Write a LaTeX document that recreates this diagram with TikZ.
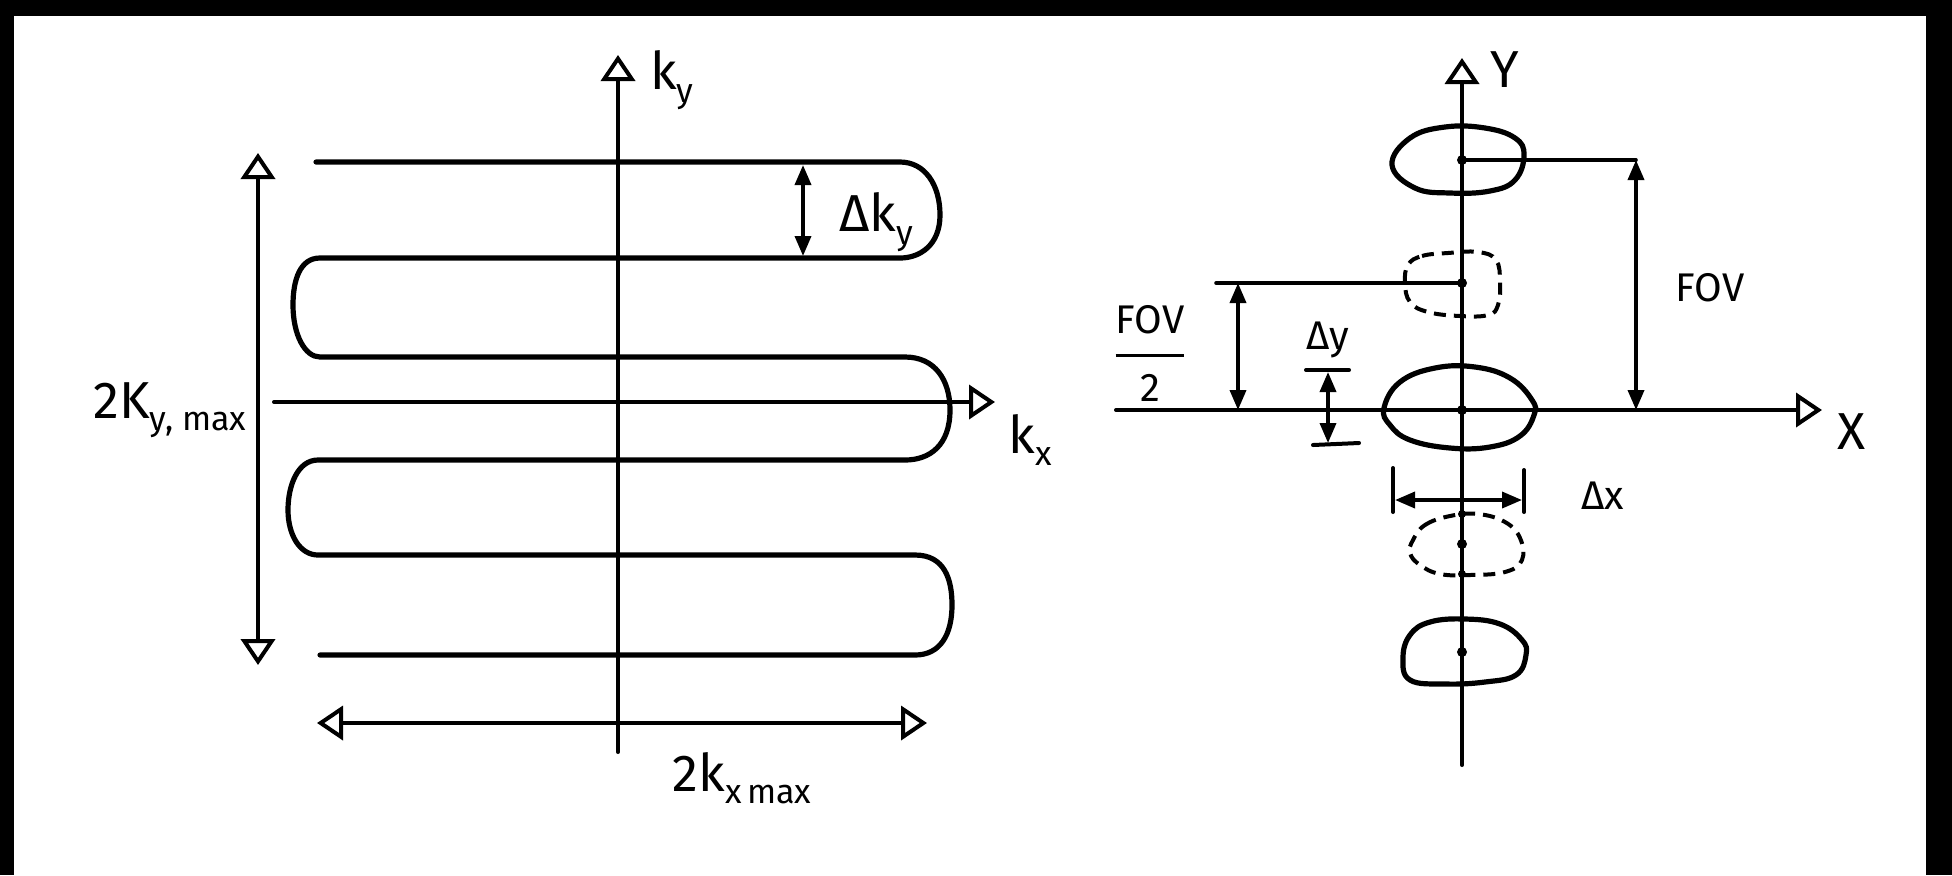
\documentclass[tikz,border=0pt]{standalone}
\usepackage{fontspec}
\setmainfont{Fira Sans}
\usetikzlibrary{arrows.meta}
\newcommand\lowsub[1]{\raisebox{-0.45ex}{\fontsize{17}{19}\selectfont #1}}
\tikzset{
  pen/.style={line width=2.6pt, line cap=round, line join=round},
  axisline/.style={line width=2pt, line cap=round},
  thinline/.style={line width=1.8pt, line cap=round},
  lbl/.style={font=\fontsize{26}{30}\selectfont, inner sep=0pt},
  slbl/.style={font=\fontsize{20}{24}\selectfont, inner sep=0pt},
  openarr/.style={-{Triangle[open,length=13pt,width=17pt,line width=2pt]}},
  opendbl/.style={{Triangle[open,length=13pt,width=17pt,line width=2pt]}-{Triangle[open,length=13pt,width=17pt,line width=2pt]}},
  dimdbl/.style={{Triangle[length=10pt,width=8pt]}-{Triangle[length=10pt,width=8pt]}},
  blob/.style={line width=2.6pt},
  dblob/.style={line width=2pt, dash pattern=on 6pt off 4pt},
  dotmark/.style={circle, fill=black, inner sep=0pt, minimum size=5pt}
}
\begin{document}
\begin{tikzpicture}[x=0.5pt,y=-0.5pt]
\useasboundingbox (0,0) rectangle (1952,875);
\fill[white] (0,0) rectangle (1952,875);
\fill[black] (0,0) rectangle (14,875);
\fill[black] (0,0) rectangle (1952,16);
\fill[black] (1926,0) rectangle (1952,875);

% ---------------- left panel ----------------
\coordinate (kyb) at (618,752);
\coordinate (kyt) at (618,55);
\coordinate (kxl) at (274,402);
\coordinate (kxr) at (995,402);
\draw[axisline, openarr] (kyb) -- (kyt);
\draw[axisline, openarr] (kxl) -- (kxr);

% scan path
\coordinate (s1) at (316,162);
\coordinate (s2) at (900,162);
\coordinate (s3) at (900,258);
\coordinate (s4) at (320,258);
\coordinate (s5) at (320,357);
\coordinate (s6) at (905,357);
\coordinate (s7) at (905,460);
\coordinate (s8) at (318,460);
\coordinate (s9) at (318,555);
\coordinate (s10) at (915,555);
\coordinate (s11) at (915,655);
\coordinate (s12) at (320,655);
\draw[pen] (s1) -- (s2)
  .. controls (925,162) and (940,185) .. (940,215)
  .. controls (940,245) and (920,258) .. (s3)
  -- (s4)
  .. controls (300,258) and (293,280) .. (293,305)
  .. controls (293,335) and (305,357) .. (s5)
  -- (s6)
  .. controls (935,357) and (950,380) .. (950,410)
  .. controls (950,445) and (930,460) .. (s7)
  -- (s8)
  .. controls (298,460) and (288,485) .. (288,510)
  .. controls (288,535) and (300,555) .. (s9)
  -- (s10)
  .. controls (945,555) and (952,580) .. (952,605)
  .. controls (952,635) and (940,655) .. (s11)
  -- (s12);

% dimension arrows
\coordinate (vt) at (258,153);
\coordinate (vb) at (258,665);
\draw[axisline, opendbl] (vb) -- (vt);
\coordinate (hl) at (317,723);
\coordinate (hr) at (927,723);
\draw[axisline, opendbl] (hl) -- (hr);
\coordinate (dkt) at (803,165);
\coordinate (dkb) at (803,256);
\draw[thinline, dimdbl] (dkt) -- (dkb);

\node[lbl] (kylab) at (672,80) {k\lowsub{y}};
\node[lbl] (kxlab) at (1030,440) {k\lowsub{x}};
\node[lbl] (dkylab) at (876,222) {Δk\lowsub{y}};
\node[lbl] (kymaxlab) at (170,410) {2K\lowsub{y, max}};
\node[lbl] (kxmaxlab) at (742,778) {2k\lowsub{x\,max}};

% ---------------- right panel ----------------
\coordinate (Yb) at (1462,765);
\coordinate (Yt) at (1462,58);
\coordinate (Xl) at (1116,410);
\coordinate (Xr) at (1822,410);
\draw[axisline, openarr] (Yb) -- (Yt);
\draw[axisline, openarr] (Xl) -- (Xr);
\node[lbl] (Ylab) at (1505,70) {Y};
\node[lbl] (Xlab) at (1852,432) {X};

% blobs
\draw[blob] plot[smooth cycle, tension=0.7] coordinates {(1392,165) (1410,138) (1445,127) (1485,128) (1515,138) (1524,155) (1515,180) (1490,191) (1450,193) (1415,188)};
\draw[blob] plot[smooth cycle, tension=0.7] coordinates {(1384,408) (1400,382) (1435,368) (1475,367) (1510,378) (1532,400) (1534,415) (1520,436) (1490,447) (1450,448) (1410,440) (1390,425)};
\draw[blob] plot[smooth cycle, tension=0.7] coordinates {(1403,658) (1410,635) (1430,622) (1465,619) (1500,624) (1522,640) (1526,655) (1516,675) (1485,682) (1445,684) (1410,680)};
\draw[dblob] plot[smooth cycle, tension=0.7] coordinates {(1408,265) (1422,256) (1448,253) (1478,252) (1496,260) (1500,282) (1498,305) (1488,315) (1460,316) (1428,312) (1410,302) (1405,283)};
\draw[dblob] plot[smooth cycle, tension=0.7] coordinates {(1413,540) (1425,525) (1450,516) (1478,514) (1505,522) (1520,538) (1522,560) (1505,572) (1470,575) (1440,574) (1420,565) (1410,553)};

% centre dots
\node[dotmark] (c1) at (1462,160) {};
\node[dotmark] (c2) at (1462,283) {};
\node[dotmark] (c3) at (1462,410) {};
\node[dotmark] (c4) at (1462,544) {};
\node[dotmark] (c5) at (1462,652) {};
\node[dotmark, minimum size=4pt] (c4a) at (1462,514) {};
\node[dotmark, minimum size=4pt] (c4b) at (1462,574) {};

% FOV dimension
\coordinate (fovt) at (1636,160);
\coordinate (fovb) at (1636,410);
\draw[thinline] (c1.center) -- (fovt);
\draw[thinline, dimdbl] (fovt) -- (fovb);
\node[slbl] (fovlab) at (1710,288) {FOV};

% FOV/2 dimension
\coordinate (h2l) at (1216,283);
\coordinate (h2t) at (1238,283);
\coordinate (h2b) at (1238,410);
\draw[thinline] (h2l) -- (c2.center);
\draw[thinline, dimdbl] (h2t) -- (h2b);
\node[slbl] (fov2lab) at (1150,358) {\setlength{\arrayrulewidth}{1.6pt}\setlength{\tabcolsep}{0pt}\begin{tabular}{c}FOV\\[3pt]\hline\rule{0pt}{22pt}2\end{tabular}};

% Delta y
\coordinate (dyt1) at (1306,370);
\coordinate (dyt2) at (1349,370);
\coordinate (dyb1) at (1313,445);
\coordinate (dyb2) at (1359,443);
\coordinate (dyt) at (1328,372);
\coordinate (dyb) at (1328,443);
\draw[axisline] (dyt1) -- (dyt2);
\draw[axisline] (dyb1) -- (dyb2);
\draw[thinline, dimdbl] (dyt) -- (dyb);
\node[slbl] (dylab) at (1328,340) {Δy};

% Delta x
\coordinate (dxl1) at (1393,468);
\coordinate (dxl2) at (1393,512);
\coordinate (dxr1) at (1524,470);
\coordinate (dxr2) at (1524,512);
\coordinate (dxl) at (1395,500);
\coordinate (dxr) at (1522,500);
\draw[axisline] (dxl1) -- (dxl2);
\draw[axisline] (dxr1) -- (dxr2);
\draw[thinline, dimdbl] (dxl) -- (dxr);
\node[slbl] (dxlab) at (1603,496) {Δx};
\end{tikzpicture}
\end{document}
